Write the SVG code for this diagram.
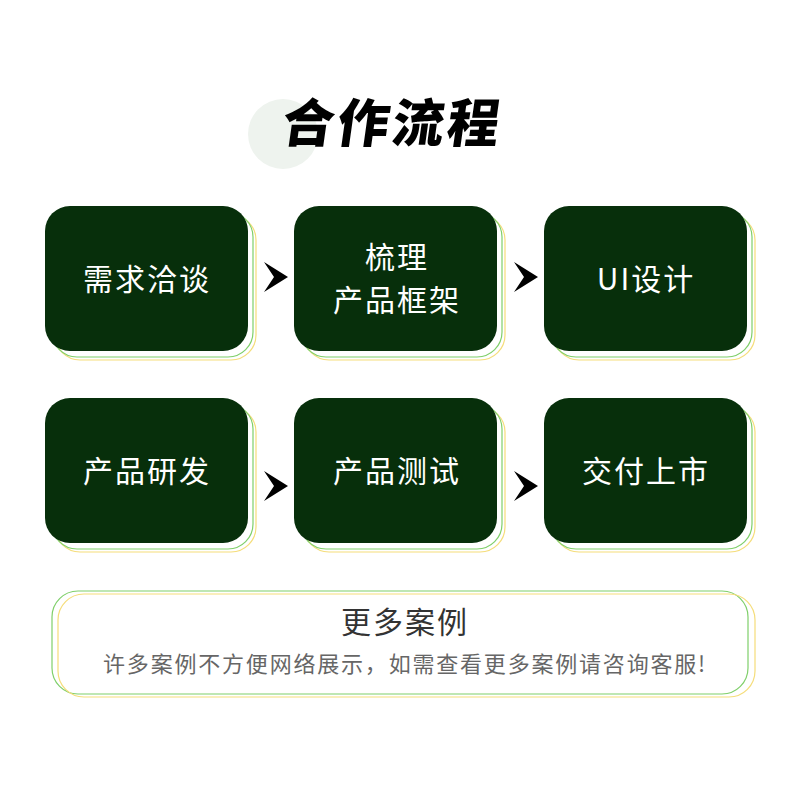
<svg xmlns="http://www.w3.org/2000/svg" width="800" height="800" viewBox="0 0 800 800">
<defs>
<style>
.box{fill:#072f0b}
.sg{fill:none;stroke:#7fcf6a;stroke-width:1.2}
.sy{fill:none;stroke:#f5dd7a;stroke-width:1.2}
.lbl{font-family:"Noto Sans CJK SC","Noto Sans",sans-serif;font-size:30px;letter-spacing:2px;fill:#ffffff;text-anchor:middle}
.arr{fill:#000000}
</style>
<g id="shadow">
<rect class="sy" x="10" y="9" width="201" height="145" rx="25"/>
<rect class="sg" x="7" y="6" width="201" height="145" rx="25"/>
</g>
<path id="chev" d="M-12,-15 L12,0 L-12,15 L-2,0 Z"/>
</defs>
<rect width="800" height="800" fill="#ffffff"/>
<g id="title">
<circle cx="283" cy="134" r="35" fill="#eef3ee"/>
<text x="390" y="142" font-family="Noto Sans CJK SC,sans-serif" font-weight="900" font-size="52" letter-spacing="3" text-anchor="middle" fill="#000" transform="skewX(-8) translate(20,0)">合作流程</text>
</g>
<g id="n1"><use href="#shadow" x="45" y="206"/><rect class="box" x="45" y="206" width="203" height="145" rx="25"/><text class="lbl" x="147" y="290">需求洽谈</text></g>
<g id="n2"><use href="#shadow" x="294" y="206"/><rect class="box" x="294" y="206" width="203" height="145" rx="25"/><text class="lbl" x="397" y="268">梳理</text><text class="lbl" x="397" y="311">产品框架</text></g>
<g id="n3"><use href="#shadow" x="544" y="206"/><rect class="box" x="544" y="206" width="203" height="145" rx="25"/><text class="lbl" x="646" y="290">UI设计</text></g>
<g id="n4"><use href="#shadow" x="45" y="398"/><rect class="box" x="45" y="398" width="203" height="145" rx="25"/><text class="lbl" x="147" y="482">产品研发</text></g>
<g id="n5"><use href="#shadow" x="294" y="398"/><rect class="box" x="294" y="398" width="203" height="145" rx="25"/><text class="lbl" x="397" y="482">产品测试</text></g>
<g id="n6"><use href="#shadow" x="544" y="398"/><rect class="box" x="544" y="398" width="203" height="145" rx="25"/><text class="lbl" x="646" y="482">交付上市</text></g>
<g id="connectors" class="arr">
<use href="#chev" x="276" y="277"/>
<use href="#chev" x="526" y="277"/>
<use href="#chev" x="276" y="486"/>
<use href="#chev" x="526" y="486"/>
</g>
<g id="more">
<rect class="sg" x="52" y="591" width="696" height="103" rx="26"/>
<rect class="sy" x="58" y="594" width="697" height="103" rx="26"/>
<text x="405" y="633" font-family="Noto Sans CJK SC,sans-serif" font-size="30" letter-spacing="2" fill="#333333" text-anchor="middle">更多案例</text>
<text x="405" y="672" font-family="Noto Sans CJK SC,sans-serif" font-size="22" letter-spacing="1.8" fill="#666666" text-anchor="middle">许多案例不方便网络展示，如需查看更多案例请咨询客服!</text>
</g>
</svg>
